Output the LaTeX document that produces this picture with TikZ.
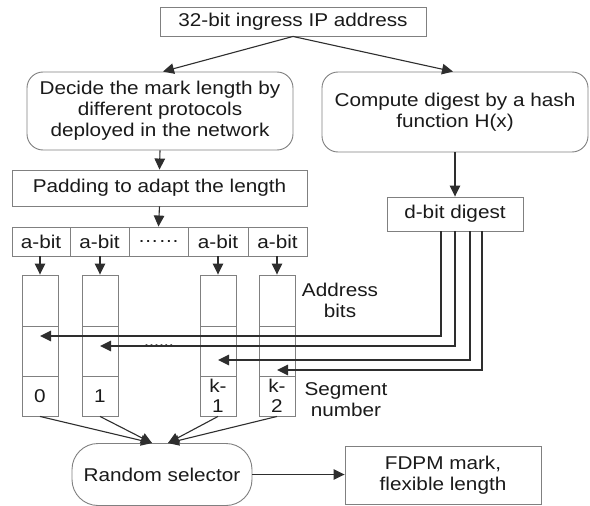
\documentclass[tikz,border=0pt]{standalone}
\usepackage{fontspec}
\setmainfont{Liberation Sans}[FakeStretch=1.12]
\usetikzlibrary{arrows.meta,calc}
\definecolor{boxc}{HTML}{808080}
\definecolor{linec}{HTML}{2E2E2E}
\definecolor{txtc}{HTML}{1A1A1A}
\begin{document}
\begin{tikzpicture}[x=1pt,y=-1pt,
  font=\fontsize{18.5}{21}\selectfont, text=txtc,
  box/.style={draw=boxc, line width=0.9pt, inner sep=0pt, align=center},
  rbox/.style={box, rounded corners=16pt},
  arr/.style={draw=linec, line width=1.1pt, -{Triangle[length=11pt,width=10.5pt]}},
  dline/.style={draw=linec, line width=1.6pt, -{Triangle[length=11pt,width=10.5pt]}},
  lbl/.style={inner sep=0pt, align=center}]
\useasboundingbox (0,0) rectangle (590,506);
\fill[white] (0,0) rectangle (590,506);

% top part
\node[box, minimum width=266pt, minimum height=29pt] (top) at (293,21.5) {32-bit ingress IP address};
\node[rbox, minimum width=266pt, minimum height=78pt] (dec) at (160,111) {Decide the mark length by\\different protocols\\deployed in the network};
\node[rbox, minimum width=266pt, minimum height=80pt] (cmp) at (455,112) {Compute digest by a hash\\function H(x)};
\node[box, minimum width=295pt, minimum height=36pt] (pad) at (159.5,188) {Padding to adapt the length};
\node[box, minimum width=136pt, minimum height=34pt] (dig) at (455,214) {d-bit digest};

% a-bit row
\node[box, minimum width=58pt, minimum height=29pt] (a1) at (41,241.5) {a-bit};
\node[box, minimum width=59pt, minimum height=29pt] (a2) at (99.5,241.5) {a-bit};
\node[box, minimum width=59pt, minimum height=29pt] (a3) at (158.5,241.5) {\ldots\ldots};
\node[box, minimum width=60pt, minimum height=29pt] (a4) at (218,241.5) {a-bit};
\node[box, minimum width=59pt, minimum height=29pt] (a5) at (277.5,241.5) {a-bit};

% columns
\foreach \n/\x/\t in {c0/40/0, c1/100/1, c2/218/{k-\\1}, c3/277/{k-\\2}}{
  \node[box, minimum width=36pt, minimum height=51pt] (\n t) at (\x,300.5) {};
  \node[box, minimum width=36pt, minimum height=50pt] (\n m) at (\x,351) {};
  \node[box, minimum width=36pt, minimum height=40pt, font=\fontsize{18.5}{20}\selectfont] (\n b) at (\x,396) {\t};
}

% labels
\node[lbl] (addr) at (340,300) {Address\\bits};
\node[lbl] (seg) at (346,400) {Segment\\number};
\node[lbl, font=\fontsize{16}{18}\selectfont] (dots) at (159,346) {......};

% bottom
\node[rbox, rounded corners=26pt, minimum width=180pt, minimum height=62pt] (rs) at (162,474.5) {Random selector};
\node[box, minimum width=196pt, minimum height=58pt] (fd) at (443,475) {FDPM mark,\\flexible length};

% connectors
\draw[arr] (top.south) -- ([xshift=3pt]dec.north);
\draw[arr] (top.south) -- ([xshift=-2pt]cmp.north);
\draw[arr] (dec.south) -- (pad.north);
\draw[arr] (cmp.south) -- (dig.north);
\draw[arr] (pad.south) -- (a3.north);
\draw[arr] (a1.south -| c0t.north) -- (c0t.north);
\draw[arr] (a2.south -| c1t.north) -- (c1t.north);
\draw[arr] (a4.south -| c2t.north) -- (c2t.north);
\draw[arr] (a5.south -| c3t.north) -- (c3t.north);

\draw[dline] ([xshift=-14pt]dig.south) |- ([yshift=15pt]c0m.center);
\draw[dline] (dig.south) |- ([yshift=5pt]c1m.center);
\draw[dline] ([xshift=15pt]dig.south) |- ([yshift=-9pt]c2m.center);
\draw[dline] ([xshift=27pt]dig.south) |- ([yshift=-19pt]c3m.center);

\draw[arr] (c0b.south) -- ([xshift=-10pt]rs.north);
\draw[arr] (c1b.south) -- ([xshift=-10pt]rs.north);
\draw[arr] (c2b.south) -- ([xshift=6pt]rs.north);
\draw[arr] (c3b.south) -- ([xshift=6pt]rs.north);
\draw[arr] (rs.east) -- (rs.east -| fd.west);
\end{tikzpicture}
\end{document}
